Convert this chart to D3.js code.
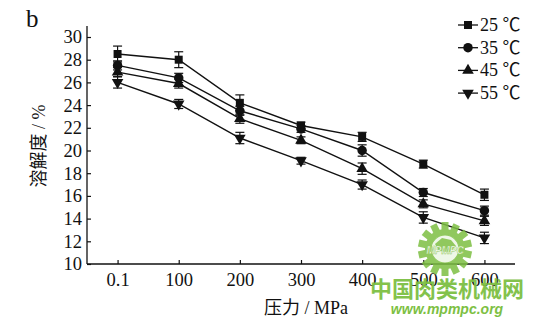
<!DOCTYPE html>
<html>
<head>
<meta charset="utf-8">
<script src="https://cdn.jsdelivr.net/npm/d3@7"></script>
<style>
  html, body { margin: 0; padding: 0; background: #fff; }
  svg { display: block; }
</style>
</head>
<body>
<svg id="chart" width="546" height="326"></svg>
<script>
// Solubility (%) vs. pressure (MPa) at four temperatures
const pressures = ["0.1", "100", "200", "300", "400", "500", "600"];
const seriesNames = ["25 ℃", "35 ℃", "45 ℃", "55 ℃"];
const values25 = [28.5, 28.0, 24.2, 22.2, 21.2, 18.8, 16.1];
const values35 = [27.5, 26.4, 23.5, 21.9, 20.0, 16.3, 14.7];
const values45 = [26.9, 25.9, 22.8, 20.9, 18.4, 15.3, 13.8];
const values55 = [26.0, 24.1, 21.1, 19.1, 17.0, 14.1, 12.3];
const errors25 = [0.7, 0.7, 0.7, 0.3, 0.4, 0.35, 0.5];
const errors35 = [0.4, 0.4, 0.4, 0.3, 0.5, 0.35, 0.4];
const errors45 = [0.4, 0.4, 0.4, 0.3, 0.5, 0.35, 0.4];
const errors55 = [0.5, 0.4, 0.5, 0.3, 0.4, 0.5, 0.5];
const yTicks = [10, 12, 14, 16, 18, 20, 22, 24, 26, 28, 30];
const markerTypes = [d3.symbolSquare, d3.symbolCircle, d3.symbolTriangle, "down"];

const serif = "'Liberation Serif', 'Times New Roman', 'DejaVu Serif', serif";
const serifCJK = "'Liberation Serif', 'Times New Roman', 'Noto Sans CJK SC', serif";

const series = seriesNames.map((name, i) => ({
  name,
  values: [values25, values35, values45, values55][i],
  errors: [errors25, errors35, errors45, errors55][i],
  marker: markerTypes[i]
}));

const svg = d3.select("#chart");
const plotLeft = 87, plotRight = 515, plotTop = 26, plotBottom = 264;

const x = d3.scalePoint().domain(pressures).range([plotLeft, plotRight]).padding(0.5);
const y = d3.scaleLinear().domain([10, 30]).range([plotBottom, 37]);

// Axes with inward ticks
const yAxis = svg.append("g").attr("transform", `translate(${plotLeft},0)`)
  .call(d3.axisLeft(y).tickValues(yTicks).tickSize(-4).tickPadding(5).tickFormat(d3.format("d")));
yAxis.select(".domain").remove();
yAxis.append("line").attr("x1", 0).attr("x2", 0).attr("y1", plotTop).attr("y2", plotBottom)
  .attr("stroke", "#111").attr("stroke-width", 1.3);

const xAxis = svg.append("g").attr("transform", `translate(0,${plotBottom})`)
  .call(d3.axisBottom(x).tickSize(-4).tickPadding(9));
xAxis.select(".domain").remove();
xAxis.append("line").attr("x1", plotLeft).attr("x2", plotRight).attr("y1", 0).attr("y2", 0)
  .attr("stroke", "#111").attr("stroke-width", 1.3);

svg.selectAll("g").attr("font-family", null);
svg.selectAll(".tick line").attr("stroke", "#111").attr("stroke-width", 1.2);
svg.selectAll(".tick text").attr("font-size", 18.5)
  .attr("font-family", serif).attr("fill", "#111");

// Marker drawing
function markerPath(type, size) {
  if (type === "down") {
    return d3.symbol().type(d3.symbolTriangle).size(size)();
  }
  return d3.symbol().type(type).size(size)();
}
function markerSize(type) {
  if (type === d3.symbolSquare) return 64;
  if (type === d3.symbolCircle) return 70;
  return 58;
}

const line = d3.line().x((d, i) => x(pressures[i])).y(d => y(d));

// Lines
series.forEach(s => {
  svg.append("path").datum(s.values).attr("d", line)
    .attr("fill", "none").attr("stroke", "#111").attr("stroke-width", 1.4);
});

// Error bars
series.forEach(s => {
  const g = svg.append("g");
  s.values.forEach((v, i) => {
    const cx = x(pressures[i]);
    const y1 = y(v + s.errors[i]), y2 = y(v - s.errors[i]);
    g.append("line").attr("x1", cx).attr("x2", cx).attr("y1", y1).attr("y2", y2)
      .attr("stroke", "#111").attr("stroke-width", 1.2);
    [y1, y2].forEach(yy => g.append("line").attr("x1", cx - 4.5).attr("x2", cx + 4.5)
      .attr("y1", yy).attr("y2", yy).attr("stroke", "#111").attr("stroke-width", 1.2));
  });
});

// Markers
series.forEach(s => {
  svg.append("g").selectAll("path").data(s.values).join("path")
    .attr("d", markerPath(s.marker, markerSize(s.marker)))
    .attr("transform", (d, i) => `translate(${x(pressures[i])},${y(d)})` + (s.marker === "down" ? " rotate(180)" : ""))
    .attr("fill", "#111");
});

// Legend
const legend = svg.append("g");
series.forEach((s, i) => {
  const ly = 25 + i * 22.7;
  legend.append("line").attr("x1", 458).attr("x2", 478).attr("y1", ly).attr("y2", ly)
    .attr("stroke", "#111").attr("stroke-width", 1.3);
  legend.append("path").attr("d", markerPath(s.marker, markerSize(s.marker)))
    .attr("transform", `translate(468,${ly})` + (s.marker === "down" ? " rotate(180)" : ""))
    .attr("fill", "#111");
  legend.append("text").attr("x", 480).attr("y", ly + 6)
    .attr("font-size", 18).attr("font-family", serifCJK).attr("fill", "#111")
    .text(s.name);
});

// Panel letter and axis titles
svg.append("text").attr("x", 26).attr("y", 27)
  .attr("font-size", 25).attr("font-family", serif).attr("fill", "#111").text("b");

svg.append("text").attr("transform", "translate(45,146) rotate(-90)")
  .attr("text-anchor", "middle")
  .attr("font-size", 18).attr("font-family", serifCJK).attr("fill", "#111")
  .text("溶解度 / %");

svg.append("text").attr("x", 306).attr("y", 314).attr("text-anchor", "middle")
  .attr("font-size", 18).attr("font-family", serifCJK).attr("fill", "#111")
  .text("压力 / MPa");

// Site mark: gear emblem and name
const green = "#7dbf43";
const gear = svg.append("g").attr("transform", "translate(445,249)").attr("opacity", 0.85);
const teeth = 14;
gear.selectAll("rect").data(d3.range(teeth)).join("rect")
  .attr("x", -3.5).attr("y", -27).attr("width", 7).attr("height", 9)
  .attr("fill", green)
  .attr("transform", d => `rotate(${d * 360 / teeth})`);
gear.append("circle").attr("r", 20).attr("fill", green);
gear.append("circle").attr("r", 14).attr("fill", "#fff").attr("opacity", 0.85);
gear.append("circle").attr("r", 14).attr("fill", "none").attr("stroke", green).attr("stroke-width", 1.2);
gear.append("path").attr("d", "M-10,-5 L-3,-11 L6,-9 L11,-3 L5,3 L-6,2 Z").attr("fill", green);
gear.append("text").attr("x", 0).attr("y", 5).attr("text-anchor", "middle")
  .attr("font-size", 10).attr("font-style", "italic").attr("font-weight", "bold")
  .attr("font-family", "'Liberation Sans', sans-serif")
  .attr("fill", "#fff").attr("stroke", green).attr("stroke-width", 0.5)
  .text("MPMPC");

svg.append("text").attr("x", 447).attr("y", 297).attr("text-anchor", "middle")
  .attr("font-size", 22).attr("font-weight", "bold")
  .attr("font-family", "'Noto Sans CJK SC', sans-serif")
  .attr("fill", green).attr("opacity", 0.95)
  .text("中国肉类机械网");

svg.append("text").attr("x", 447).attr("y", 314).attr("text-anchor", "middle")
  .attr("font-size", 14).attr("font-weight", "bold").attr("font-style", "italic")
  .attr("font-family", "'Liberation Sans', sans-serif")
  .attr("fill", green)
  .text("www.mpmpc.org");
</script>
</body>
</html>
